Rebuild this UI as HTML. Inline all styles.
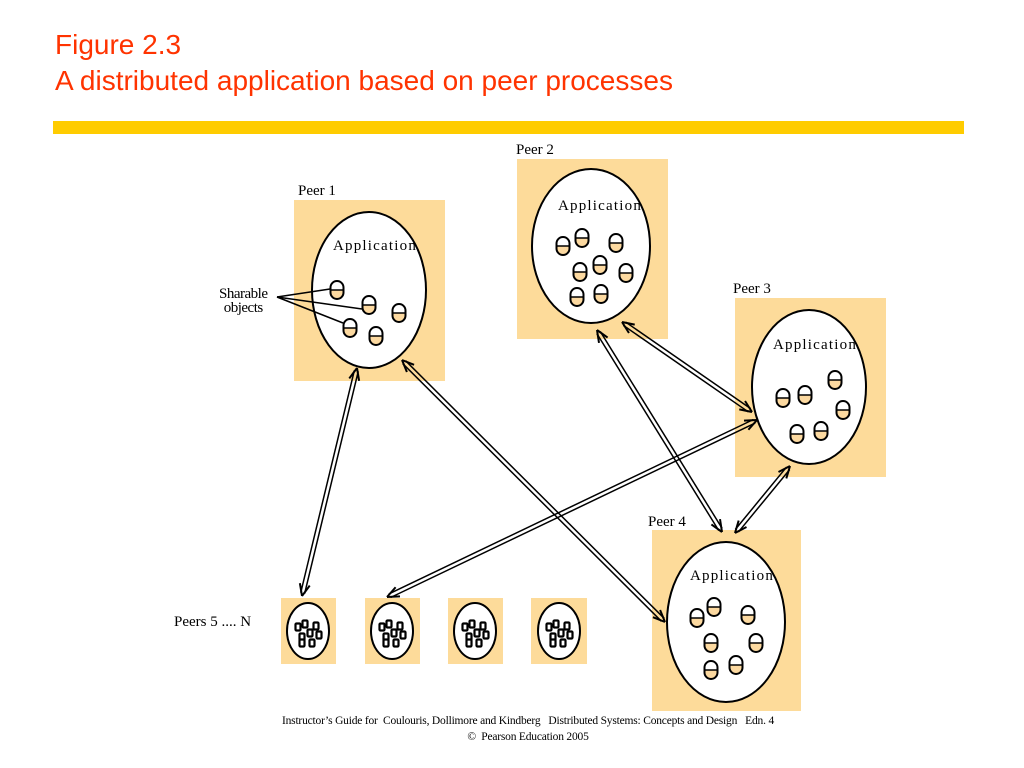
<!DOCTYPE html>
<html><head><meta charset="utf-8"><style>
body{margin:0;background:#fff;width:1024px;height:768px;overflow:hidden;position:relative;font-family:"Liberation Serif",serif}
.t{position:absolute;left:55px;color:#ff3300;font-family:"Liberation Sans",sans-serif;font-size:28px;line-height:32px}
.bar{position:absolute;left:53px;top:121px;width:911px;height:13px;background:#ffcc00}
.l{position:absolute;font-size:15px;color:#000;white-space:nowrap}
.f{position:absolute;font-size:11.5px;width:1024px;text-align:center;left:16px;letter-spacing:-0.2px}
</style></head><body>
<div class="t" style="top:29px">Figure 2.3</div>
<div class="t" style="top:65px">A distributed application based on peer processes</div>
<div class="bar"></div>
<svg id="s" width="1024" height="768" style="position:absolute;left:0;top:0" xmlns="http://www.w3.org/2000/svg">
<g fill="#fddb9a">
<rect x="294" y="200" width="151" height="181"/>
<rect x="517" y="159" width="151" height="180"/>
<rect x="735" y="298" width="151" height="179"/>
<rect x="652" y="530" width="149" height="181"/>
<rect x="281" y="598" width="55" height="66"/>
<rect x="365" y="598" width="55" height="66"/>
<rect x="448" y="598" width="55" height="66"/>
<rect x="531" y="598" width="56" height="66"/>
</g>
<g fill="#fff" stroke="#000" stroke-width="2">
<ellipse cx="369" cy="290" rx="57" ry="78"/>
<ellipse cx="591" cy="246" rx="59" ry="77"/>
<ellipse cx="809" cy="387" rx="57" ry="77"/>
<ellipse cx="726" cy="622" rx="59" ry="80"/>
<ellipse cx="308" cy="631" rx="21" ry="28"/>
<ellipse cx="392" cy="631" rx="21" ry="28"/>
<ellipse cx="475" cy="631" rx="21" ry="28"/>
<ellipse cx="559" cy="631" rx="21" ry="28"/>
</g>
<g stroke="#000" stroke-width="1.5">
<line x1="277" y1="297" x2="330" y2="289"/>
<line x1="277" y1="297" x2="362" y2="309"/>
<line x1="277" y1="297" x2="343" y2="323"/>
</g>
<g id="pills"></g>
<g id="arr" stroke="#000" stroke-width="1.5" fill="none"></g>
<g font-family="Liberation Serif,serif" font-size="15" fill="#000" letter-spacing="1.2">
<text x="333" y="250">Application</text>
<text x="558" y="210">Application</text>
<text x="773" y="349">Application</text>
<text x="690" y="580">Application</text>
</g>
</svg>
<div class="l" style="left:298px;top:183px">Peer 1</div>
<div class="l" style="left:516px;top:142px">Peer 2</div>
<div class="l" style="left:733px;top:281px">Peer 3</div>
<div class="l" style="left:648px;top:514px">Peer 4</div>
<div class="l" style="left:219px;top:287px;line-height:14px;text-align:center;letter-spacing:-0.5px">Sharable<br>objects</div>
<div class="l" style="left:174px;top:614px">Peers 5 .... N</div>
<div class="f" style="top:715px">Instructor’s Guide for &nbsp;Coulouris, Dollimore and Kindberg &nbsp; Distributed Systems: Concepts and Design &nbsp; Edn. 4</div>
<div class="f" style="top:731px">©&nbsp; Pearson Education 2005</div>
<script>
var NS="http://www.w3.org/2000/svg";
function el(p,n,a){var e=document.createElementNS(NS,n);for(var k in a)e.setAttribute(k,a[k]);p.appendChild(e);return e;}
var pg=document.getElementById("pills");
function pill(x,y,w,h){w=w||13;h=h||18;
 el(pg,"rect",{x:x-w/2,y:y-h/2,width:w,height:h,rx:w/2,fill:"#fff"});
 el(pg,"path",{d:"M"+(x-w/2)+" "+y+" h"+w+" v"+(h/2-w/2)+" a"+(w/2)+" "+(w/2)+" 0 0 1 -"+w+" 0 z",fill:"#fcd9a0"});
 el(pg,"rect",{x:x-w/2,y:y-h/2,width:w,height:h,rx:w/2,fill:"none",stroke:"#000","stroke-width":2});
 el(pg,"line",{x1:x-w/2,y1:y,x2:x+w/2,y2:y,stroke:"#000","stroke-width":1.5});}
[[337,290],[369,305],[399,313],[350,328],[376,336],
 [563,246],[582,238],[616,243],[580,272],[600,265],[626,273],[577,297],[601,294],
 [783,398],[805,395],[835,380],[843,410],[797,434],[821,431],
 [697,618],[714,607],[748,615],[711,643],[756,643],[711,670],[736,665]].forEach(function(p){pill(p[0],p[1]);});
var sm=[[-10,-4],[-3,-7],[8,-5],[2,2],[-6,6],[11,4],[-6,12],[4,12]];
[308,392,475,559].forEach(function(cx){sm.forEach(function(o){
 el(pg,"rect",{x:cx+o[0]-2.5,y:631+o[1]-3.5,width:5,height:7,rx:1,fill:"#fff",stroke:"#000","stroke-width":2.2});});});
var ag=document.getElementById("arr");
function arrow(x1,y1,x2,y2){var dx=x2-x1,dy=y2-y1,L=Math.hypot(dx,dy),ux=dx/L,uy=dy/L,px=-uy*2,py=ux*2;
 el(ag,"line",{x1:x1+px+ux*3,y1:y1+py+uy*3,x2:x2+px-ux*3,y2:y2+py-uy*3});
 el(ag,"line",{x1:x1-px+ux*3,y1:y1-py+uy*3,x2:x2-px-ux*3,y2:y2-py-uy*3});
 function head(tx,ty,vx,vy){var a=0.4,l=13;
  for(var s of[-1,1]){var c=Math.cos(a*s),sn=Math.sin(a*s);var rx=vx*c-vy*sn,ry=vx*sn+vy*c;
   el(ag,"line",{x1:tx,y1:ty,x2:tx+rx*l,y2:ty+ry*l,"stroke-width":2});}}
 head(x1,y1,ux,uy);head(x2,y2,-ux,-uy);}
arrow(357,368,302,596);
arrow(402,360,665,622);
arrow(597,330,722,532);
arrow(622,322,752,412);
arrow(757,420,387,597);
arrow(790,466,735,533);
</script>
</body></html>
